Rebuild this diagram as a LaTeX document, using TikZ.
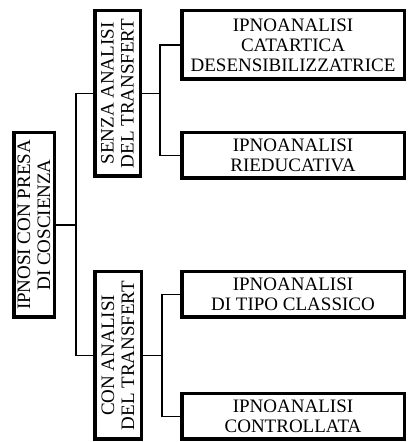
\documentclass[tikz,border=0pt]{standalone}
\usepackage{fontspec}
\setmainfont{Liberation Serif}
\begin{document}
\begin{tikzpicture}[x=1pt,y=1pt,
  box/.style={draw=black, line width=3.5pt, fill=white, inner sep=2pt, align=center,
    font=\fontsize{19}{20}\selectfont},
  vbox/.style={box, rotate=90},
  conn/.style={draw=black, line width=1.2pt}]
\useasboundingbox (0,0) rectangle (408,442);
% root
\node[vbox, minimum width=184.5pt, minimum height=40.5pt] (root) at (34,217) {IPNOSI CON PRESA\\DI COSCIENZA};
% second level
\node[vbox, minimum width=165.5pt, minimum height=45.5pt] (senza) at (117.5,348.5) {SENZA ANALISI\\DEL TRANSFERT};
\node[vbox, minimum width=167.5pt, minimum height=46.5pt] (con) at (118,86.5) {CON ANALISI\\DEL TRANSFERT};
% leaves
\node[box, minimum width=222.5pt, minimum height=68.5pt] (b1) at (293,397) {IPNOANALISI\\CATARTICA\\DESENSIBILIZZATRICE};
\node[box, minimum width=222.5pt, minimum height=45.5pt] (b2) at (293,286.5) {IPNOANALISI\\RIEDUCATIVA};
\node[box, minimum width=222.5pt, minimum height=45.5pt] (b3) at (293,147.5) {IPNOANALISI\\DI TIPO CLASSICO};
\node[box, minimum width=222.5pt, minimum height=45.5pt] (b4) at (293,25.5) {IPNOANALISI\\CONTROLLATA};
% junctions
\coordinate (j0) at (76,217);
\coordinate (j1) at (160,348.5);
\coordinate (j2) at (162,86.5);
% connectors
\draw[conn] (root.south) -- (j0);
\draw[conn] (senza.north) -| (j0) |- (con.north);
\draw[conn] (senza.south) -- (j1);
\draw[conn] (b1.west) -| (j1) |- (b2.west);
\draw[conn] (con.south) -- (j2);
\draw[conn] (b3.west) -| (j2) |- (b4.west);
\end{tikzpicture}
\end{document}
